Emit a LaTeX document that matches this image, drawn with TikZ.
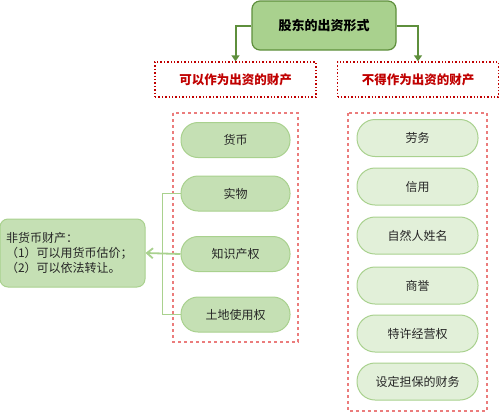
\documentclass[tikz,border=0pt]{standalone}
\usepackage{fontspec}
\setmainfont{Noto Sans CJK SC}
\usepackage{tikz}
\usetikzlibrary{calc, arrows.meta}

\definecolor{darkgreen}{HTML}{5E8F3C}
\definecolor{midgreen}{HTML}{A9D18E}
\definecolor{lightgreen}{HTML}{C5E0B4}
\definecolor{palegreen}{HTML}{E2F0D9}
\definecolor{deepred}{HTML}{C00000}
\definecolor{pinkred}{HTML}{EB7C7C}
\definecolor{textgray}{HTML}{262626}

\tikzset{
    titlebox/.style={draw=darkgreen, fill=midgreen, line width=1.2pt, rounded corners=8pt,
        minimum width=144pt, minimum height=49pt, font=\fontsize{13}{15}\selectfont\bfseries},
    kindbox/.style={draw=deepred, dotted, line width=1.4pt, minimum width=161pt, minimum height=35pt,
        text=deepred, font=\fontsize{12.5}{14}\selectfont\bfseries},
    groupbox/.style={draw=pinkred, dashed, line width=1.2pt},
    leftpill/.style={draw=midgreen, fill=lightgreen, line width=1pt, rounded corners=17pt,
        minimum width=109pt, minimum height=35pt, text=textgray, font=\fontsize{12}{13}\selectfont},
    rightpill/.style={draw=midgreen, fill=palegreen, line width=1pt, rounded corners=18pt,
        minimum width=121pt, minimum height=37pt, text=textgray, font=\fontsize{12}{13}\selectfont},
    notebox/.style={draw=midgreen, fill=lightgreen, line width=1pt, rounded corners=8pt,
        minimum width=145pt, minimum height=68pt, text width=133pt, align=left, inner xsep=6pt,
        text=textgray, font=\fontsize{12}{15}\selectfont},
    toparrow/.style={draw=darkgreen, line width=2pt, -{Triangle[length=6pt,width=8pt]}},
    link/.style={draw=midgreen, line width=1.8pt}
}

\begin{document}
\begin{tikzpicture}[x=1pt, y=-1pt]
        \useasboundingbox (0,0) rectangle (500,413);
        % head and the two kinds
        \node[titlebox] (form) at (324,25.5) {股东的出资形式};
        \node[kindbox] (can) at (235.5,79.5) {可以作为出资的财产};
        \node[kindbox] (cannot) at (418,79.5) {不得作为出资的财产};
        \draw[toparrow] (form.west) -| (can.north);
        \draw[toparrow] (form.east) -| (cannot.north);
        % dashed groups
        \draw[groupbox] (173,113) rectangle (298,342);
        \draw[groupbox] (348,113) rectangle (487,411);
        % allowed items
        \foreach \name/\y/\txt in {huobi/140/货币, shiwu/193.5/实物, zhishi/254/知识产权, tudi/314.5/土地使用权}
            \node[leftpill] (\name) at (235.5,\y) {\txt};
        % forbidden items
        \foreach \name/\y/\txt in {laowu/138/劳务, xinyong/186.5/信用, xingming/235.5/自然人姓名,
                shangyu/285.5/商誉, jingying/333.5/特许经营权, danbao/381.5/设定担保的财务}
            \node[rightpill] (\name) at (417.5,\y) {\txt};
        % non-monetary note
        \node[notebox] (note) at (72.5,253) {非货币财产：\\（1）可以用货币估价；\\（2）可以依法转让。};
        \draw[link] (shiwu.west) -- ++(-18,0) |- (tudi.west);
        \draw[link, -{Straight Barb[length=6pt,width=10pt]}] (zhishi.west) -- (note.east);
    \end{tikzpicture}
\end{document}
